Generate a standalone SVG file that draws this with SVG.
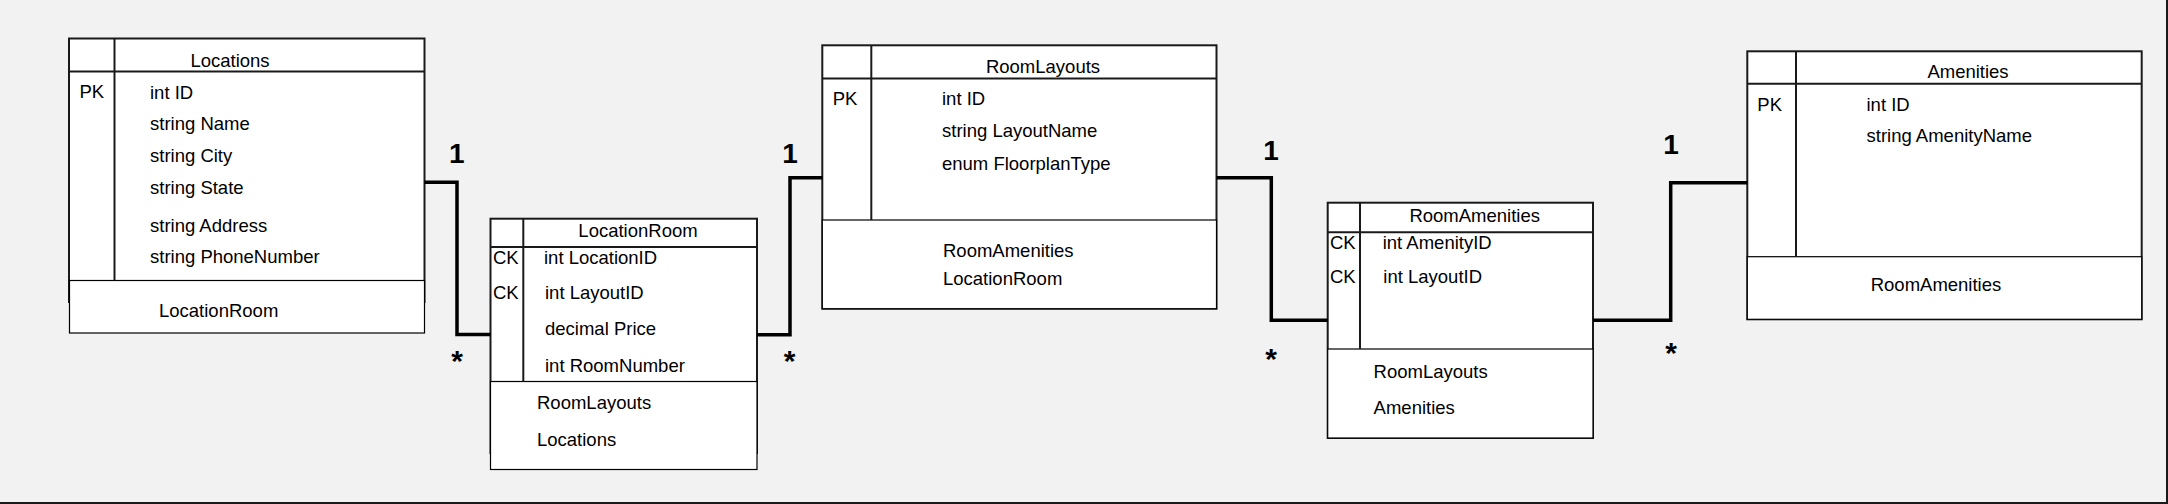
<svg xmlns="http://www.w3.org/2000/svg" width="2168" height="504" viewBox="0 0 2168 504">
<style>
.bg{fill:#f2f2f2}
.outer{fill:#ffffff;stroke:#1a1a1a;stroke-width:2}
.line{stroke:#1a1a1a;stroke-width:2;fill:none}
.sect{fill:#ffffff;stroke:#000000;stroke-width:1.2}
.t{font-family:"Liberation Sans",Arial,sans-serif;font-size:18.5px;fill:#000}
.c{text-anchor:middle}
.conn{fill:none;stroke:#000;stroke-width:3.5}
.mult{font-family:"Liberation Sans",Arial,sans-serif;font-weight:bold;fill:#000;text-anchor:middle}
</style>
<rect class="bg" x="0" y="0" width="2168" height="504"/>
<line class="line" x1="0" y1="503" x2="2168" y2="503"/>
<line class="line" x1="2167" y1="0" x2="2167" y2="504"/>

<g id="Locations">
<rect class="outer" x="69" y="38.5" width="355.5" height="263.5"/>
<rect class="sect" x="69.5" y="280.5" width="355" height="52.5"/>
<line class="line" x1="69" y1="71.5" x2="424.5" y2="71.5"/>
<line class="line" x1="114.5" y1="38.5" x2="114.5" y2="280.5"/>
<text class="t c" x="230" y="66.7">Locations</text>
<text class="t" x="79.5" y="98.3">PK</text>
<text class="t" x="150" y="99">int ID</text>
<text class="t" x="150" y="130">string Name</text>
<text class="t" x="150" y="162">string City</text>
<text class="t" x="150" y="194">string State</text>
<text class="t" x="150" y="231.7">string Address</text>
<text class="t" x="150" y="263.3">string PhoneNumber</text>
<text class="t" x="159" y="316.5">LocationRoom</text>
</g>

<g id="LocationRoom">
<rect class="outer" x="490.5" y="218.7" width="266.5" height="234.3"/>
<rect class="sect" x="490.5" y="381.5" width="266.5" height="88"/>
<line class="line" x1="490.5" y1="247" x2="757" y2="247"/>
<line class="line" x1="523.3" y1="218.7" x2="523.3" y2="381.5"/>
<text class="t c" x="638" y="236.7">LocationRoom</text>
<text class="t" x="493" y="264.3">CK</text>
<text class="t" x="544" y="264.3">int LocationID</text>
<text class="t" x="493" y="298.5">CK</text>
<text class="t" x="545" y="298.5">int LayoutID</text>
<text class="t" x="545" y="335">decimal Price</text>
<text class="t" x="545" y="372">int RoomNumber</text>
<text class="t" x="537" y="409">RoomLayouts</text>
<text class="t" x="537" y="446">Locations</text>
</g>

<g id="RoomLayouts">
<rect class="outer" x="822.3" y="45.3" width="394.2" height="263.4"/>
<rect class="sect" x="822.3" y="220" width="394.2" height="88.7"/>
<line class="line" x1="822.3" y1="78.4" x2="1216.5" y2="78.4"/>
<line class="line" x1="871.3" y1="45.3" x2="871.3" y2="220"/>
<text class="t c" x="1043" y="72.7">RoomLayouts</text>
<text class="t" x="832.7" y="105">PK</text>
<text class="t" x="942" y="104.7">int ID</text>
<text class="t" x="942" y="136.7">string LayoutName</text>
<text class="t" x="942" y="170">enum FloorplanType</text>
<text class="t" x="943" y="256.7">RoomAmenities</text>
<text class="t" x="943" y="285">LocationRoom</text>
</g>

<g id="RoomAmenities">
<rect class="outer" x="1327.7" y="202.7" width="265.3" height="235.3"/>
<rect class="sect" x="1327.7" y="349" width="265.3" height="89"/>
<line class="line" x1="1327.7" y1="232.3" x2="1593" y2="232.3"/>
<line class="line" x1="1360" y1="202.7" x2="1360" y2="349"/>
<text class="t c" x="1474.7" y="221.7">RoomAmenities</text>
<text class="t" x="1330" y="249.3">CK</text>
<text class="t" x="1382.7" y="249.3">int AmenityID</text>
<text class="t" x="1330" y="283.3">CK</text>
<text class="t" x="1383.3" y="283.3">int LayoutID</text>
<text class="t" x="1373.6" y="377.7">RoomLayouts</text>
<text class="t" x="1373.6" y="414">Amenities</text>
</g>

<g id="Amenities">
<rect class="outer" x="1747.3" y="51.3" width="394.4" height="268"/>
<rect class="sect" x="1747.3" y="256.7" width="394.4" height="62.6"/>
<line class="line" x1="1747.3" y1="83.7" x2="2141.7" y2="83.7"/>
<line class="line" x1="1796" y1="51.3" x2="1796" y2="256.7"/>
<text class="t c" x="1968" y="78.3">Amenities</text>
<text class="t" x="1757.3" y="110.7">PK</text>
<text class="t" x="1866.5" y="110.5">int ID</text>
<text class="t" x="1866.5" y="142">string AmenityName</text>
<text class="t" x="1870.7" y="290.7">RoomAmenities</text>
</g>

<g id="connectors">
<path class="conn" d="M424.5,182.2 H457 V334.5 H490.5"/>
<path class="conn" d="M757,334.8 H790 V177.7 H822.3"/>
<path class="conn" d="M1216.5,177.7 H1271.3 V320.3 H1327.7"/>
<path class="conn" d="M1593,320.3 H1670.7 V182.7 H1747.3"/>
<text class="mult" font-size="28" x="456.7" y="163.3">1</text>
<text class="mult" font-size="30" x="457" y="371">*</text>
<text class="mult" font-size="28" x="790" y="163.3">1</text>
<text class="mult" font-size="30" x="789.5" y="371">*</text>
<text class="mult" font-size="28" x="1271" y="160">1</text>
<text class="mult" font-size="30" x="1271" y="368.5">*</text>
<text class="mult" font-size="28" x="1671" y="154.3">1</text>
<text class="mult" font-size="30" x="1671" y="362.5">*</text>
</g>
</svg>
